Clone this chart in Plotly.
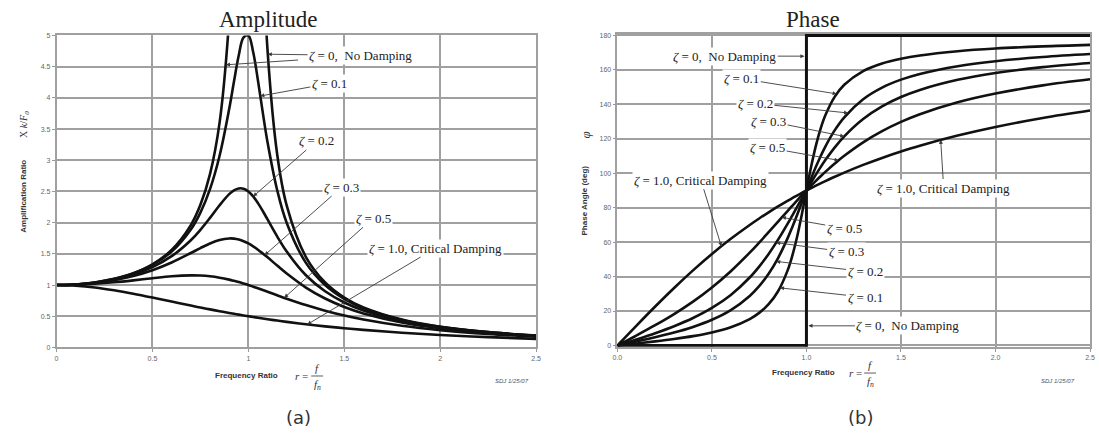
import plotly.graph_objects as go

# ---------------- data ----------------
r_amp = [0, 0.1, 0.2, 0.3, 0.4, 0.5, 0.6, 0.7, 0.75, 0.8, 0.85, 0.9, 0.925, 0.95, 0.975,
         1.0, 1.025, 1.05, 1.075, 1.1, 1.15, 1.2, 1.3, 1.4, 1.5, 1.6, 1.8, 2.0, 2.25, 2.5]

amp_z00 = [1.0, 1.010, 1.042, 1.099, 1.190, 1.333, 1.563, 1.961, 2.286, 2.778, 3.604, 5.263, 6.926,
           None, None, None, None, None, 6.426, 4.762, 3.101, 2.273, 1.449, 1.042, 0.800, 0.641,
           0.446, 0.333, 0.246, 0.190]
amp_z01 = [1.0, 1.010, 1.041, 1.097, 1.185, 1.322, 1.536, 1.891, 2.162, 2.538, 3.073, 3.821, 4.261,
           4.683, 4.971, 5.000, 4.736, 4.279, 3.768, 3.288, 2.524, 1.995, 1.356, 1.000, 0.778, 0.628,
           0.441, 0.330, 0.245, 0.190]
amp_z02 = [1.0, 1.009, 1.038, 1.089, 1.169, 1.288, 1.463, 1.719, 1.885, 2.076, 2.279, 2.457, 2.518,
           2.549, 2.544, 2.500, 2.421, 2.313, 2.187, 2.051, 1.780, 1.536, 1.157, 0.900, 0.721, 0.593,
           0.425, 0.322, 0.240, 0.187]
amp_z03 = [1.0, 1.008, 1.034, 1.078, 1.145, 1.238, 1.362, 1.514, 1.593, 1.667, 1.722, 1.747, 1.744,
           1.729, 1.703, 1.667, 1.621, 1.567, 1.507, 1.444, 1.313, 1.185, 0.960, 0.784, 0.649, 0.546,
           0.402, 0.309, 0.234, 0.183]
amp_z05 = [1.0, 1.005, 1.020, 1.044, 1.075, 1.109, 1.140, 1.155, 1.152, 1.140, 1.118, 1.087, 1.068,
           1.047, 1.024, 1.000, 0.974, 0.948, 0.921, 0.893, 0.837, 0.782, 0.679, 0.589, 0.512, 0.448,
           0.348, 0.277, 0.215, 0.172]
amp_z10 = [1.0, 0.990, 0.962, 0.917, 0.862, 0.800, 0.735, 0.671, 0.640, 0.610, 0.581, 0.552, 0.539,
           0.526, 0.513, 0.500, 0.488, 0.476, 0.464, 0.452, 0.431, 0.410, 0.372, 0.338, 0.308, 0.281,
           0.236, 0.200, 0.165, 0.138]

r_phase = r_amp
phase_z01 = [0, 1.16, 2.39, 3.77, 5.44, 7.59, 10.62, 15.35, 18.92, 23.96, 31.49, 43.45, 52.03, 62.84,
             75.79, 90.0, 103.87, 116.02, 125.90, 133.67, 144.50, 151.39, 159.35, 163.74, 166.50,
             168.41, 170.87, 172.41, 173.68, 174.56]
phase_z02 = [0, 2.31, 4.76, 7.51, 10.78, 14.93, 20.56, 28.77, 34.44, 41.63, 50.78, 62.18, 68.69, 75.61,
             82.78, 90.0, 97.04, 103.72, 109.90, 115.51, 125.03, 132.51, 143.00, 149.74, 154.36,
             157.69, 162.18, 165.07, 167.51, 169.22]
phase_z03 = [0, 3.47, 7.13, 11.19, 15.95, 21.80, 29.36, 39.47, 45.81, 53.13, 61.45, 70.61, 75.42, 80.29,
             85.18, 90.0, 94.71, 99.24, 103.56, 107.65, 115.05, 121.43, 131.50, 138.81, 144.25,
             148.39, 154.26, 158.20, 161.62, 164.05]
phase_z05 = [0, 5.77, 11.77, 18.25, 25.46, 33.69, 43.15, 53.92, 59.74, 65.77, 71.92, 78.08, 81.13, 84.14,
             87.10, 90.0, 92.83, 95.58, 98.24, 100.81, 105.66, 110.14, 117.96, 124.44, 129.81,
             134.28, 141.22, 146.31, 151.02, 154.54]
phase_z10 = [0, 11.42, 22.62, 33.40, 43.60, 53.13, 61.93, 69.98, 73.74, 77.32, 80.73, 83.97, 85.54,
             87.06, 88.55, 90.0, 91.41, 92.79, 94.14, 95.45, 97.98, 100.39, 104.86, 108.92, 112.62,
             115.99, 121.89, 126.87, 132.08, 136.40]
phase_z00_r = [0, 1, 1, 2.5]
phase_z00 = [0, 0, 180, 180]

amp_yticks = [0, 0.5, 1, 1.5, 2, 2.5, 3, 3.5, 4, 4.5, 5]
phase_yticks = [0, 20, 40, 60, 80, 100, 120, 140, 160, 180]

# ---------------- figure ----------------
W, H = 1099, 440
def PX(x): return x / W
def PY(y): return 1 - y / H

fig = go.Figure()
line = dict(color="#111111", width=2.6, shape="spline")
for ys in [amp_z00, amp_z01, amp_z02, amp_z03, amp_z05, amp_z10]:
    fig.add_trace(go.Scatter(x=r_amp, y=ys, mode="lines", line=line, xaxis="x", yaxis="y",
                             connectgaps=False, hoverinfo="skip"))
for ys in [phase_z01, phase_z02, phase_z03, phase_z05, phase_z10]:
    fig.add_trace(go.Scatter(x=r_phase, y=ys, mode="lines", line=line, xaxis="x2", yaxis="y2",
                             hoverinfo="skip"))
fig.add_trace(go.Scatter(x=phase_z00_r, y=phase_z00, mode="lines",
                         line=dict(color="#111111", width=3), xaxis="x2", yaxis="y2", hoverinfo="skip"))

grid = "#a0a0a0"
tickfont = dict(family="Liberation Sans", size=7, color="#666666")
common = dict(showgrid=True, gridcolor=grid, gridwidth=1.5, showline=True, linecolor=grid,
              linewidth=1.5, mirror=True, ticks="outside", ticklen=3, tickcolor="#999999",
              tickfont=tickfont, zeroline=False, fixedrange=True)

fig.update_layout(
    width=W, height=H, margin=dict(l=0, r=0, t=0, b=0),
    paper_bgcolor="white", plot_bgcolor="white", showlegend=False,
    xaxis=dict(domain=[PX(52), PX(536)], range=[0, 2.5], tickvals=[0, 0.5, 1, 1.5, 2, 2.5],
               ticktext=["0", "0.5", "1", "1.5", "2", "2.5"], anchor="y", **common),
    yaxis=dict(domain=[PY(349), PY(32)], range=[0, 5], tickvals=amp_yticks,
               ticktext=[str(v) for v in amp_yticks], anchor="x", **common),
    xaxis2=dict(domain=[PX(618), PX(1095)], range=[0, 2.5], tickvals=[0, 0.5, 1, 1.5, 2, 2.5],
                ticktext=["0.0", "0.5", "1.0", "1.5", "2.0", "2.5"], anchor="y2", **common),
    yaxis2=dict(domain=[PY(348.4), PY(30.6)], range=[-0.8, 180.8], tickvals=phase_yticks,
                ticktext=[str(v) for v in phase_yticks], anchor="x2", **common),
)

serif = "Liberation Serif"
labfont = dict(family=serif, size=13, color="#222222")
Z = "<i>\u03b6</i>"
SP = "\u00a0"

anns = []
def lab(xr, yr, hx, hy, tx, ty, text, standoff=0, bg="white"):
    anns.append(dict(xref=xr, yref=yr, axref=xr, ayref=yr, x=hx, y=hy, ax=tx, ay=ty, text=text,
                     showarrow=True, arrowhead=2, arrowsize=0.9, arrowwidth=0.9, arrowcolor="#3a3a3a",
                     standoff=standoff, font=labfont, bgcolor=bg, borderpad=1))

# amplitude labels
lab("x", "y", 0.883, 4.53, 1.275, 4.61, SP, bg="rgba(0,0,0,0)")
lab("x", "y", 1.101, 4.70, 1.585, 4.68, Z + " = 0," + SP + SP + "No Damping")
lab("x", "y", 1.062, 4.03, 1.422, 4.23, Z + " = 0.1")
lab("x", "y", 1.025, 2.42, 1.356, 3.31, Z + " = 0.2")
lab("x", "y", 1.085, 1.48, 1.487, 2.57, Z + " = 0.3")
lab("x", "y", 1.187, 0.796, 1.65, 2.07, Z + " = 0.5")
lab("x", "y", 1.307, 0.369, 1.977, 1.593, Z + " = 1.0, Critical Damping")
# phase labels
lab("x2", "y2", 1.0, 168, 0.568, 168, Z + " = 0," + SP + SP + "No Damping", standoff=2)
lab("x2", "y2", 1.16, 146.1, 0.658, 154.9, Z + " = 0.1")
lab("x2", "y2", 1.22, 135.0, 0.73, 140.6, Z + " = 0.2")
lab("x2", "y2", 1.2, 121.4, 0.8, 130.3, Z + " = 0.3")
lab("x2", "y2", 1.17, 107.5, 0.795, 114.9, Z + " = 0.5")
lab("x2", "y2", 0.55, 57.6, 0.442, 96, Z + " = 1.0, Critical Damping")
lab("x2", "y2", 1.71, 119.4, 1.726, 91.4, Z + " = 1.0, Critical Damping")
lab("x2", "y2", 0.87, 74.4, 1.2, 68, Z + " = 0.5")
lab("x2", "y2", 0.84, 59.7, 1.21, 54.3, Z + " = 0.3")
lab("x2", "y2", 0.84, 48.8, 1.31, 42.9, Z + " = 0.2")
lab("x2", "y2", 0.86, 33.45, 1.31, 28, Z + " = 0.1")
lab("x2", "y2", 1.0, 11.4, 1.537, 11.4, Z + " = 0," + SP + SP + "No Damping", standoff=2)

def txt(x, y, text, size=10, family="Liberation Sans", color="#333333", angle=0, xanchor="center"):
    anns.append(dict(xref="paper", yref="paper", x=PX(x), y=PY(y), text=text, showarrow=False,
                     textangle=angle, xanchor=xanchor, yanchor="middle",
                     font=dict(family=family, size=size, color=color)))

# titles
txt(265, 16, "Amplitude", size=23, family=serif, color="#222222")
txt(815, 16, "Phase", size=23, family=serif, color="#222222")
# y titles
txt(19, 195, "<b>Amplification Ratio</b>", size=8, angle=-90)
txt(19, 122, "X <i>k</i>/<i>F<sub>0</sub></i>", size=10, family=serif, angle=-90)
txt(585, 200, "<b>Phase Angle (deg)</b>", size=8, angle=-90)
txt(586, 133, "<i>\u03c6</i>", size=13, family=serif, angle=-90)
# x titles
txt(244, 377, "<b>Frequency Ratio</b>", size=8)
txt(806, 374, "<b>Frequency Ratio</b>", size=8)
for (xr, yb, xf) in [(299, 378, 315), (858, 375, 873)]:
    txt(xr, yb, "<i>r</i> =", size=11, family=serif)
    txt(xf, yb - 8, "<i>f</i>", size=11, family=serif)
    txt(xf, yb + 9, "<i>f<sub>n</sub></i>", size=11, family=serif)
# footers
txt(512, 383, "<i>SDJ 1/25/07</i>", size=6, color="#555555")
txt(1063, 383, "<i>SDJ 1/25/07</i>", size=6, color="#555555")
txt(296, 420, "(a)", size=18, family="DejaVu Sans", color="#333333")
txt(863, 420, "(b)", size=18, family="DejaVu Sans", color="#333333")

fig.update_layout(annotations=anns)

shapes = []
for (x0, x1, y) in [(309, 321, 378), (867, 879, 375)]:
    shapes.append(dict(type="line", xref="paper", yref="paper", x0=PX(x0), x1=PX(x1), y0=PY(y), y1=PY(y),
                       line=dict(color="#333333", width=0.8)))
fig.update_layout(shapes=shapes)

fig.write_html("out.html")
